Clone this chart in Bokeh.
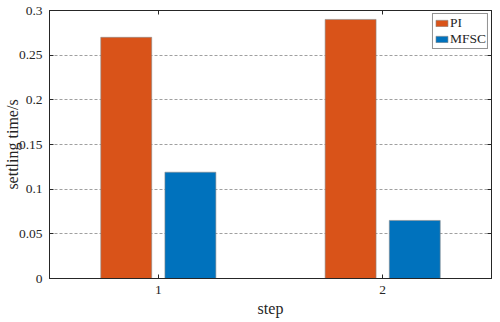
from bokeh.plotting import figure
from bokeh.models import ColumnDataSource, Range1d, LinearAxis, FixedTicker
from bokeh.transform import dodge
from bokeh.embed import file_html
from bokeh.resources import INLINE

steps = [1, 2]
pi_vals = [0.27, 0.29]
mfsc_vals = [0.119, 0.065]
series_names = ["PI", "MFSC"]
y_ticks = [0, 0.05, 0.1, 0.15, 0.2, 0.25, 0.3]
y_tick_labels = {0: "0", 0.05: "0.05", 0.1: "0.1", 0.15: "0.15", 0.2: "0.2", 0.25: "0.25", 0.3: "0.3"}

FONT = "Liberation Serif"
TXT = "#262626"

src = ColumnDataSource(dict(step=steps, pi=pi_vals, mfsc=mfsc_vals))

p = figure(width=492, height=322, frame_width=442, frame_height=268,
           output_backend="svg", toolbar_location=None,
           x_range=Range1d(0.515, 2.485), y_range=Range1d(0, 0.3),
           min_border_left=44, min_border_right=6, min_border_top=10, min_border_bottom=44)

p.vbar(x=dodge("step", -0.143), top="pi", width=0.227, source=src,
       fill_color="#D95319", line_color="#8a8a8a", line_width=0.6, legend_label=series_names[0])
p.vbar(x=dodge("step", 0.143), top="mfsc", width=0.227, source=src,
       fill_color="#0072BD", line_color="#8a8a8a", line_width=0.6, legend_label=series_names[1])

p.outline_line_color = TXT
p.outline_line_width = 1
p.background_fill_color = "white"
p.border_fill_color = "white"

p.xgrid.visible = False
p.ygrid.ticker = FixedTicker(ticks=y_ticks)
p.ygrid.grid_line_color = "#a0a0a0"
p.ygrid.grid_line_dash = "3 2"
p.ygrid.grid_line_width = 1

for ax in (p.xaxis[0], p.yaxis[0]):
    ax.major_tick_in = 4
    ax.major_tick_out = 0
    ax.minor_tick_line_color = None
    ax.axis_line_color = TXT
    ax.major_tick_line_color = TXT
    ax.major_label_text_font = FONT
    ax.major_label_text_font_size = "13.5px"
    ax.major_label_text_color = TXT
    ax.axis_label_text_font = FONT
    ax.axis_label_text_font_size = "16px"
    ax.axis_label_text_font_style = "normal"
    ax.axis_label_text_color = TXT

p.xaxis.ticker = FixedTicker(ticks=steps)
p.xaxis.axis_label = "step"
p.xaxis.major_label_standoff = 7
p.xaxis.axis_label_standoff = 3

p.yaxis.ticker = FixedTicker(ticks=y_ticks)
p.yaxis.major_label_overrides = y_tick_labels
p.yaxis.axis_label = "settling time/s"
p.yaxis.major_label_standoff = 7
p.yaxis.axis_label_standoff = -5

top_ax = LinearAxis(ticker=FixedTicker(ticks=steps), major_label_overrides={1: "", 2: ""})
right_ax = LinearAxis(ticker=FixedTicker(ticks=y_ticks), major_label_overrides={t: "" for t in y_ticks})
for ax in (top_ax, right_ax):
    ax.major_tick_in = 4
    ax.major_tick_out = 0
    ax.minor_tick_line_color = None
    ax.axis_line_color = TXT
    ax.major_tick_line_color = TXT
    ax.major_label_standoff = 0
    ax.major_label_text_font_size = "1px"
p.add_layout(top_ax, "above")
p.add_layout(right_ax, "right")

p.legend.location = "top_right"
p.legend.margin = 3
p.legend.padding = 1
p.legend.spacing = 0
p.legend.glyph_width = 15
p.legend.glyph_height = 8
p.legend.label_standoff = 1
p.legend.label_text_font = FONT
p.legend.label_text_font_size = "13.5px"
p.legend.label_text_color = TXT
p.legend.label_height = 14
p.legend.border_line_color = TXT
p.legend.border_line_width = 1
p.legend.background_fill_alpha = 1

open("out.html", "w").write(file_html(p, INLINE))
